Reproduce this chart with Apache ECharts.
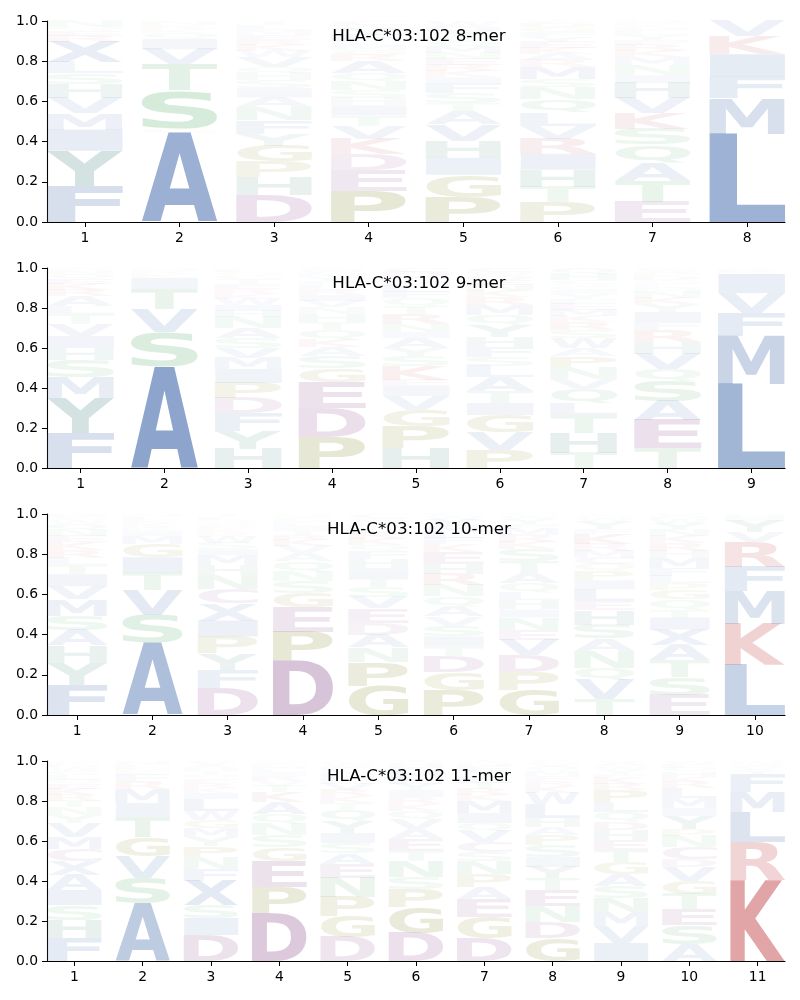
<!DOCTYPE html>
<html>
<head>
<meta charset="utf-8">
<script src="https://cdn.jsdelivr.net/npm/echarts@6/dist/echarts.min.js"></script>
<style>
html, body { margin: 0; padding: 0; background: #fff; }
#chart { width: 800px; height: 1000px; }
</style>
</head>
<body>
<div id="chart"></div>
<script>
// letter stacks per position, bottom -> top, [letter, height]
const mer8 = [
  [['F',.18],['Y',.175],['I',.105],['M',.08],['V',.075],['H',.07],['S',.055],['L',.055],['X',.10],['R',.03],['E',.025],['Q',.02],['N',.03]],
  [['A',.445],['G',.02],['S',.19],['T',.13],['V',.075],['I',.05],['Q',.03],['K',.02],['R',.02],['N',.02]],
  [['D',.135],['H',.09],['P',.075],['G',.08],['Y',.06],['F',.065],['N',.065],['A',.05],['I',.045],['S',.04],['H',.035],['Q',.03],['V',.05],['W',.03],['K',.03],['R',.025],['E',.025],['M',.025],['L',.025],['T',.02]],
  [['P',.155],['E',.105],['D',.08],['K',.075],['V',.065],['T',.05],['I',.05],['H',.035],['S',.04],['N',.045],['Q',.04],['A',.06],['R',.03],['G',.025],['M',.025],['L',.02],['F',.03],['Y',.03],['W',.02],['C',.02]],
  [['P',.125],['G',.11],['I',.085],['H',.085],['V',.08],['A',.065],['T',.04],['S',.05],['F',.05],['I',.03],['K',.03],['R',.03],['E',.03],['N',.03],['M',.03],['Q',.03],['L',.02],['Y',.03],['D',.025],['W',.025]],
  [['P',.10],['T',.075],['H',.085],['I',.08],['R',.075],['V',.065],['L',.065],['Q',.065],['N',.06],['S',.04],['M',.06],['R',.035],['A',.03],['K',.03],['E',.03],['Y',.025],['F',.025],['G',.025],['D',.02],['W',.01]],
  [['E',.10],['T',.105],['A',.09],['Q',.09],['S',.08],['K',.075],['V',.075],['H',.075],['I',.04],['N',.05],['M',.04],['K',.03],['R',.03],['F',.025],['Y',.025],['L',.025],['G',.02],['P',.015],['D',.01]],
  [['L',.44],['M',.175],['F',.11],['I',.11],['K',.09],['V',.075]]
];

const mer9 = [
  [['F',.175],['Y',.175],['M',.105],['S',.085],['H',.06],['I',.06],['V',.06],['T',.05],['L',.04],['A',.05],['R',.03],['K',.03],['E',.025],['Q',.025],['N',.02],['W',.01]],
  [['A',.51],['S',.17],['V',.115],['T',.10],['I',.055],['K',.02],['R',.015],['N',.015]],
  [['H',.095],['Y',.09],['F',.09],['D',.075],['P',.075],['I',.07],['M',.055],['V',.05],['S',.05],['A',.05],['N',.055],['H',.03],['I',.03],['W',.03],['K',.025],['R',.025],['E',.025],['T',.025],['G',.02],['Q',.015],['L',.015],['C',.005]],
  [['P',.155],['D',.145],['E',.13],['G',.07],['S',.06],['A',.045],['K',.04],['Q',.045],['T',.04],['H',.04],['N',.035],['V',.03],['I',.03],['R',.025],['L',.025],['F',.02],['Y',.02],['M',.02],['W',.015],['C',.01]],
  [['H',.10],['P',.11],['G',.08],['V',.07],['I',.05],['E',.03],['K',.07],['S',.05],['Y',.04],['A',.05],['I',.03],['N',.04],['R',.05],['T',.04],['Q',.04],['F',.03],['L',.03],['M',.025],['W',.015],['D',.03],['C',.02]],
  [['P',.09],['V',.09],['G',.085],['I',.06],['T',.06],['A',.07],['L',.055],['S',.045],['F',.05],['H',.05],['Y',.06],['Q',.05],['M',.05],['R',.04],['K',.03],['N',.03],['E',.025],['D',.02],['W',.02],['C',.02]],
  [['T',.075],['H',.10],['T',.09],['L',.06],['Q',.07],['V',.05],['N',.06],['P',.055],['A',.04],['W',.05],['S',.04],['R',.04],['K',.03],['M',.03],['E',.03],['F',.025],['Y',.025],['I',.02],['G',.02],['D',.01],['C',.02],['H',.03],['Q',.03]],
  [['T',.10],['E',.14],['A',.095],['S',.10],['Q',.06],['V',.075],['H',.06],['R',.06],['F',.04],['I',.05],['Y',.04],['K',.03],['N',.03],['M',.02],['L',.02],['G',.02],['D',.02],['P',.02],['W',.01],['C',.01]],
  [['L',.42],['M',.24],['F',.115],['V',.10],['I',.095],['K',.01],['R',.01],['Y',.01]]
];

const mer10 = [
  [['F',.15],['Y',.11],['H',.085],['A',.075],['S',.075],['M',.08],['V',.065],['I',.06],['T',.045],['L',.035],['R',.04],['K',.04],['E',.03],['N',.03],['Q',.03],['W',.02],['G',.015],['D',.015]],
  [['A',.36],['S',.14],['V',.12],['T',.09],['I',.075],['G',.065],['M',.04],['I',.025],['R',.02],['K',.02],['E',.015],['L',.015],['N',.015]],
  [['D',.135],['F',.09],['Y',.08],['P',.085],['I',.08],['X',.085],['C',.07],['N',.07],['H',.05],['M',.05],['I',.03],['S',.03],['W',.03],['R',.02],['K',.02],['E',.015],['G',.015],['Q',.015],['L',.015],['T',.015]],
  [['D',.27],['P',.145],['E',.12],['G',.07],['S',.06],['N',.05],['Q',.05],['A',.04],['V',.035],['K',.03],['R',.025],['T',.025],['I',.02],['L',.015],['M',.015],['F',.01],['Y',.01],['H',.01]],
  [['G',.145],['P',.12],['N',.07],['A',.065],['D',.06],['E',.07],['V',.055],['S',.05],['T',.045],['I',.05],['H',.045],['F',.04],['Q',.03],['K',.03],['R',.03],['L',.025],['M',.02],['Y',.015],['W',.015],['C',.02]],
  [['P',.125],['G',.09],['D',.08],['T',.045],['I',.05],['S',.055],['V',.045],['A',.05],['Q',.05],['N',.055],['R',.055],['H',.05],['E',.06],['K',.04],['F',.03],['L',.03],['M',.03],['Y',.03],['W',.02],['C',.01]],
  [['G',.125],['P',.09],['D',.085],['V',.075],['E',.05],['N',.06],['I',.04],['H',.045],['L',.04],['Q',.045],['A',.05],['T',.06],['S',.06],['K',.035],['R',.035],['M',.03],['F',.025],['Y',.025],['W',.015],['C',.01]],
  [['T',.08],['V',.095],['Q',.06],['N',.085],['A',.06],['S',.07],['H',.07],['E',.045],['L',.06],['I',.045],['P',.045],['Q',.035],['C',.03],['M',.035],['R',.035],['K',.05],['F',.025],['Y',.04],['W',.015],['G',.015],['D',.005]],
  [['E',.10],['S',.09],['T',.085],['A',.075],['X',.075],['I',.06],['T',.04],['Q',.05],['G',.045],['P',.035],['L',.035],['F',.04],['M',.05],['H',.035],['R',.04],['K',.035],['N',.03],['Y',.03],['W',.025],['D',.015],['V',.01]],
  [['L',.25],['K',.205],['M',.16],['F',.12],['R',.125],['V',.05],['Y',.055],['I',.02],['H',.015]]
];

const mer11 = [
  [['F',.115],['H',.09],['S',.075],['I',.075],['A',.075],['X',.07],['C',.06],['M',.06],['V',.07],['Y',.04],['N',.04],['T',.03],['R',.03],['K',.03],['E',.025],['Q',.02],['L',.025],['G',.02],['W',.02],['D',.015],['P',.015]],
  [['A',.29],['S',.125],['V',.11],['G',.095],['T',.10],['I',.07],['M',.07],['R',.04],['F',.03],['K',.02],['E',.015],['L',.015],['N',.02]],
  [['D',.13],['I',.085],['S',.065],['X',.12],['F',.06],['N',.06],['P',.055],['Y',.045],['M',.045],['G',.04],['W',.045],['L',.06],['I',.03],['K',.025],['R',.025],['E',.02],['Q',.02],['T',.02],['H',.015],['A',.015],['V',.02]],
  [['D',.24],['P',.13],['E',.13],['G',.07],['S',.06],['N',.055],['Q',.05],['A',.06],['K',.05],['T',.03],['V',.025],['R',.025],['I',.02],['L',.015],['M',.015],['F',.01],['Y',.01],['H',.005]],
  [['D',.12],['G',.105],['P',.095],['N',.095],['E',.07],['A',.055],['S',.05],['I',.05],['Y',.06],['Q',.055],['T',.035],['K',.035],['R',.03],['V',.03],['L',.025],['H',.025],['M',.02],['F',.02],['W',.015],['C',.01]],
  [['D',.14],['G',.13],['P',.09],['S',.06],['N',.08],['T',.05],['E',.06],['A',.05],['V',.05],['Q',.04],['K',.035],['R',.035],['I',.035],['Y',.03],['L',.03],['M',.03],['F',.025],['H',.02],['W',.01]],
  [['D',.115],['G',.105],['E',.09],['A',.06],['P',.065],['N',.065],['S',.045],['C',.05],['V',.055],['Q',.04],['I',.05],['M',.06],['K',.03],['R',.03],['T',.03],['L',.03],['Y',.03],['F',.025],['H',.015],['W',.01]],
  [['G',.115],['D',.08],['N',.08],['E',.08],['T',.06],['Y',.055],['I',.05],['S',.06],['P',.05],['A',.04],['H',.045],['L',.07],['W',.055],['K',.035],['R',.025],['F',.025],['M',.025],['Q',.02],['V',.02],['C',.01]],
  [['I',.09],['V',.085],['M',.07],['N',.07],['S',.06],['A',.06],['G',.06],['T',.06],['E',.05],['H',.05],['D',.04],['Q',.05],['L',.05],['P',.06],['R',.03],['K',.03],['F',.02],['Y',.02],['W',.015],['C',.01],['X',.02]],
  [['A',.085],['S',.095],['E',.08],['T',.075],['G',.065],['V',.07],['D',.04],['C',.06],['N',.055],['P',.035],['Y',.065],['I',.04],['M',.05],['L',.05],['R',.03],['K',.025],['H',.025],['Q',.02],['F',.02],['W',.015]],
  [['K',.405],['R',.19],['L',.15],['M',.10],['F',.09],['Y',.02],['V',.015],['I',.01],['W',.01],['H',.01]]
];

const titles = ['HLA-C*03:102 8-mer', 'HLA-C*03:102 9-mer', 'HLA-C*03:102 10-mer', 'HLA-C*03:102 11-mer'];
const logos = [mer8, mer9, mer10, mer11];

// residue colour groups
const groupColor = {
  blue: [76, 114, 176],
  teal: [60, 128, 118],
  green: [85, 168, 104],
  olive: [128, 128, 34],
  purple: [140, 79, 140],
  red: [196, 78, 82]
};
const residueGroup = {
  A: 'blue', F: 'blue', I: 'blue', L: 'blue', M: 'blue', V: 'blue', W: 'blue', X: 'blue',
  H: 'teal', Y: 'teal',
  S: 'green', T: 'green', N: 'green', Q: 'green',
  G: 'olive', P: 'olive',
  D: 'purple', E: 'purple', C: 'purple',
  K: 'red', R: 'red'
};

const panelTop = [21, 268, 514, 761];
const panelHeight = [201, 200, 201, 200];
const LETTER_W = 0.8;

// glyph ink boxes, measured the same way zrender draws text
const measure = document.createElement('canvas').getContext('2d');
measure.font = 'bold 100px "DejaVu Sans"';
measure.textAlign = 'center';
measure.textBaseline = 'middle';
const inkCache = {};
function inkBox(ch) {
  if (!inkCache[ch]) {
    const m = measure.measureText(ch);
    inkCache[ch] = {
      l: m.actualBoundingBoxLeft, r: m.actualBoundingBoxRight,
      a: m.actualBoundingBoxAscent, d: m.actualBoundingBoxDescent
    };
  }
  return inkCache[ch];
}

function letterColor(ch, h) {
  const c = groupColor[residueGroup[ch]];
  const a = Math.min(1, h * 1.25);
  return 'rgba(' + c[0] + ',' + c[1] + ',' + c[2] + ',' + a.toFixed(3) + ')';
}

let myChart = echarts.init(document.getElementById('chart'));

let grids = [], xAxes = [], yAxes = [], series = [], titleOpts = [];
logos.forEach(function (logo, gi) {
  const n = logo.length;
  const ticks = logo.map(function (c, i) { return i + 1; });
  grids.push({ left: 47, right: 15, top: panelTop[gi], height: panelHeight[gi] });
  xAxes.push({
    type: 'value', gridIndex: gi, min: 0.6, max: n + 0.4,
    axisLine: { show: true, lineStyle: { color: '#000', width: 1.1 } },
    axisTick: { show: true, length: 5, customValues: ticks, lineStyle: { color: '#000' } },
    axisLabel: { customValues: ticks, color: '#000', fontSize: 13.9, fontFamily: 'DejaVu Sans', margin: 9 },
    splitLine: { show: false }
  });
  yAxes.push({
    type: 'value', gridIndex: gi, min: 0, max: 1, interval: 0.2,
    axisLine: { show: true, lineStyle: { color: '#000', width: 1.1 } },
    axisTick: { show: true, length: 5, lineStyle: { color: '#000' } },
    axisLabel: { color: '#000', fontSize: 13.9, fontFamily: 'DejaVu Sans', margin: 9,
      formatter: function (v) { return v.toFixed(1); } },
    splitLine: { show: false }
  });
  titleOpts.push({
    text: titles[gi], left: 414, top: panelTop[gi] + 2, textAlign: 'center',
    textStyle: { fontSize: 16.7, fontWeight: 'normal', color: '#000', fontFamily: 'DejaVu Sans' }
  });

  // flatten stacks into [pos, bottom, top]
  let items = [], chars = [];
  logo.forEach(function (col, i) {
    let y = 0;
    col.forEach(function (lh) {
      items.push([i + 1, y, y + lh[1]]);
      chars.push(lh[0]);
      y += lh[1];
    });
  });

  series.push({
    type: 'custom',
    xAxisIndex: gi, yAxisIndex: gi,
    silent: true,
    clip: false,
    data: items,
    renderItem: function (params, api) {
      const x = api.value(0), y0 = api.value(1), y1 = api.value(2);
      const ch = chars[params.dataIndex];
      const p0 = api.coord([x - LETTER_W / 2, y0]);
      const p1 = api.coord([x + LETTER_W / 2, y1]);
      const w = p1[0] - p0[0], h = p0[1] - p1[1];
      if (h <= 0.2) return null;
      const b = inkBox(ch);
      const sx = w / (b.l + b.r), sy = h / (b.a + b.d);
      const cx = (b.r - b.l) / 2, cy = (b.d - b.a) / 2;
      return {
        type: 'text',
        x: p0[0] + w / 2 - cx * sx,
        y: p1[1] + h / 2 - cy * sy,
        scaleX: sx, scaleY: sy,
        style: {
          text: ch,
          fontSize: 100, fontWeight: 'bold', fontFamily: '"DejaVu Sans"',
          align: 'center', verticalAlign: 'middle',
          textAlign: 'center', textVerticalAlign: 'middle',
          fill: letterColor(ch, y1 - y0)
        }
      };
    }
  });
});

myChart.setOption({
  animation: false,
  backgroundColor: '#fff',
  title: titleOpts,
  grid: grids,
  xAxis: xAxes,
  yAxis: yAxes,
  series: series
});
</script>
</body>
</html>
